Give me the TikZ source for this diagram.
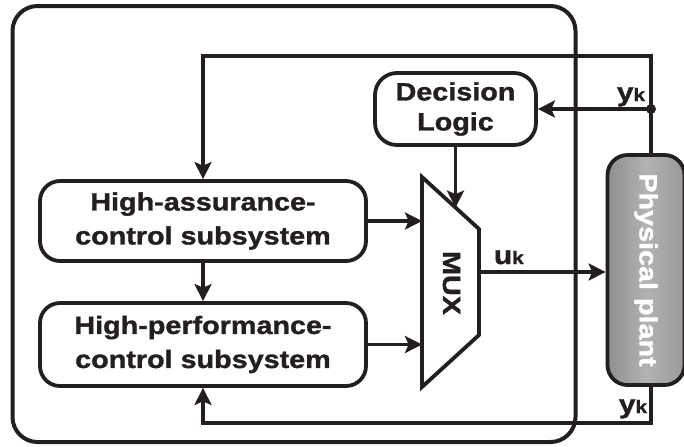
\documentclass[tikz,border=0pt]{standalone}
\usepackage{fontspec}
\setmainfont{Liberation Sans}[FakeStretch=1.15, BoldFeatures={FakeBold=1.3}]
\usepackage{graphicx}
\usetikzlibrary{arrows.meta, positioning, calc}
\definecolor{ink}{HTML}{231F20}

\begin{document}
\begin{tikzpicture}[x=0.5pt, y=-0.5pt,
  color=ink, line width=1.9pt,
  blk/.style={draw, rounded corners=10pt, minimum width=163pt, inner sep=0pt, align=center, font=\bfseries\fontsize{12.5}{17}\selectfont},
  plantbox/.style={draw, rounded corners=10pt, minimum width=38.5pt, minimum height=115pt, inner sep=0pt, left color=black!44, right color=black!40, middle color=black!30, text=white, font=\bfseries\fontsize{12.5}{14}\selectfont},
  lbl/.style={inner sep=0pt, anchor=base west, font=\bfseries\fontsize{13}{14}\selectfont},
  arrow/.style={-{Stealth[length=8.5pt, width=8.5pt, inset=1.8pt]}}]
  \useasboundingbox (0,0) rectangle (684,446);
  % controller frame
  \draw[rounded corners=12.5pt, line width=2pt] (12.5,6) rectangle (575.5,442);
  % blocks
  \node[blk, minimum height=40pt] (ha) at (203,221) {High-assurance-\\control subsystem};
  \node[blk, minimum height=41.5pt] (hp) at (203,344.5) {High-performance-\\control subsystem};
  \node[blk, rounded corners=11pt, minimum width=80.5pt, minimum height=36pt, font=\bfseries\fontsize{12.5}{15}\selectfont] (dec) at (455.5,109) {Decision\\Logic};
  \node[plantbox] (plant) at (646,270) {\rotatebox{-90}{Physical plant}};
  % multiplexer
  \coordinate (mtl) at (422,177);
  \coordinate (mtr) at (479,229);
  \coordinate (mbr) at (479,335);
  \coordinate (mbl) at (422,387);
  \draw[line join=miter] (mtl) -- (mtr) -- (mbr) -- (mbl) -- cycle;
  \node[font=\bfseries\fontsize{12.5}{14}\selectfont, inner sep=0pt] (mux) at (451.5,283) {\rotatebox{-90}{MUX}};
  \coordinate (sel) at ($(mtl)!0.588!(mtr)$);
  \coordinate (muxout) at (479,272);
  % feedback taps
  \coordinate (tap) at (651,109);
  \coordinate (fbtop) at (0,56);
  \coordinate (fbbot) at (0,423);
  % connectors
  \draw[arrow] (plant.north -| tap) -- (tap |- fbtop) -| (ha.north);
  \draw[arrow] (tap) -- (dec.east);
  \fill (tap) circle (2.5pt);
  \draw[arrow] (dec.south) -- (dec.south |- sel);
  \draw[arrow] (ha.east) -- (ha.east -| mtl);
  \draw[arrow] (hp.east) -- (hp.east -| mtl);
  \draw[arrow] (ha.south) -- (hp.north);
  \draw[arrow] (muxout) -- (muxout -| plant.west);
  \draw[arrow] (plant.south -| tap) -- (tap |- fbbot) -| (hp.south);
  % signal labels
  \node[lbl] (ytop) at (615,101) {y{\fontsize{9}{9}\selectfont k}};
  \node[lbl] (ybot) at (617,413) {y{\fontsize{9}{9}\selectfont k}};
  \node[lbl] (uk) at (492,264) {u{\fontsize{9}{9}\selectfont k}};
\end{tikzpicture}
\end{document}
